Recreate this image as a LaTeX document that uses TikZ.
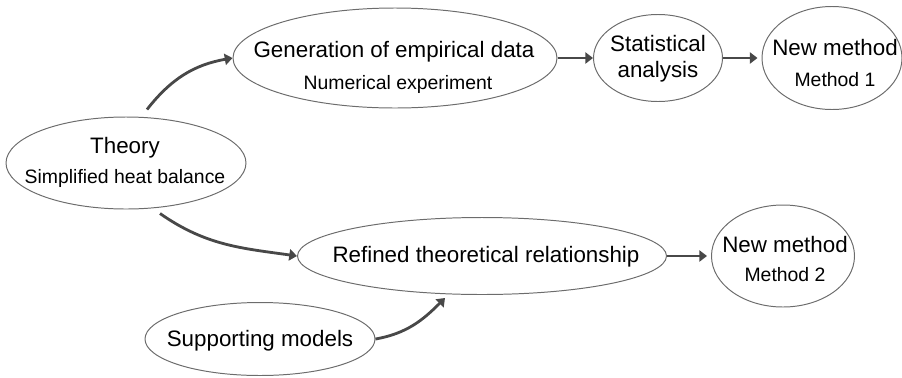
\documentclass[tikz,border=0pt]{standalone}
\usepackage{fontspec}
\setmainfont{Liberation Sans}
\usetikzlibrary{shapes.geometric, arrows.meta}

\definecolor{rimgray}{RGB}{108,108,108}
\definecolor{arrowgray}{RGB}{72,72,72}

\tikzset{
  bubble/.style={ellipse, draw=rimgray, line width=0.7pt, inner sep=0pt},
  bigtext/.style={font=\fontsize{15.9}{19}\selectfont, anchor=base, inner sep=0pt},
  smalltext/.style={font=\fontsize{13.8}{17}\selectfont, anchor=base, inner sep=0pt},
  flow/.style={-{Triangle[length=5.5pt,width=8pt]}, draw=arrowgray, line width=2pt}
}

\begin{document}
\begin{tikzpicture}
                  \useasboundingbox (0,0) rectangle (22.55,9.425);

                  \node[bubble, minimum width=6cm, minimum height=2.3cm] (theory) at (3.15,5.35) {};
                  \node[bigtext] (theoryA) at (3.125,5.5875) {Theory};
                  \node[smalltext] (theoryB) at (3.125,4.85) {Simplified heat balance};

                  \node[bubble, minimum width=8.1cm, minimum height=2.5cm] (gen) at (9.875,7.975) {};
                  \node[bigtext] (genA) at (9.85,8.0) {Generation of empirical data};
                  \node[smalltext] (genB) at (9.95,7.2) {Numerical experiment};

                  \node[bubble, minimum width=3.225cm, minimum height=2.175cm] (stat) at (16.45,7.975) {};
                  \node[bigtext] (statA) at (16.45,8.15) {Statistical};
                  \node[bigtext] (statB) at (16.45,7.5) {analysis};

                  \node[bubble, minimum width=3.5cm, minimum height=2.575cm] (newone) at (20.8,7.975) {};
                  \node[bigtext] (newoneA) at (20.875,8.05) {New method};
                  \node[smalltext] (newoneB) at (20.875,7.275) {Method 1};

                  \node[bubble, minimum width=9.225cm, minimum height=1.925cm] (refined) at (12.05,3.025) {};
                  \node[bigtext] (refinedA) at (12.15,2.875) {Refined theoretical relationship};

                  \node[bubble, minimum width=3.575cm, minimum height=2.55cm] (newtwo) at (19.575,3.025) {};
                  \node[bigtext] (newtwoA) at (19.625,3.11) {New method};
                  \node[smalltext] (newtwoB) at (19.625,2.38) {Method 2};

                  \node[bubble, minimum width=5.75cm, minimum height=1.825cm] (support) at (6.5,0.95) {};
                  \node[bigtext] (supportA) at (6.5,0.775) {Supporting models};

                  \draw[flow] ([xshift=0.525cm, yshift=0.175cm]theory.north) to[out=52, in=190] (gen.west);
                  \draw[flow] (gen.east) -- (stat.west);
                  \draw[flow] (stat.east) -- ([xshift=-0.1cm]newone.west);

                  \draw[flow] ([xshift=0.85cm, yshift=-0.1cm]theory.south) to[out=-35, in=172] (refined.west);
                  \draw[flow] (refined.east) -- ([xshift=-0.1cm]newtwo.west);
                  \draw[flow] (support.east) to[out=10, in=225] ([xshift=-0.925cm, yshift=-0.075cm]refined.south);
              \end{tikzpicture}
\end{document}
